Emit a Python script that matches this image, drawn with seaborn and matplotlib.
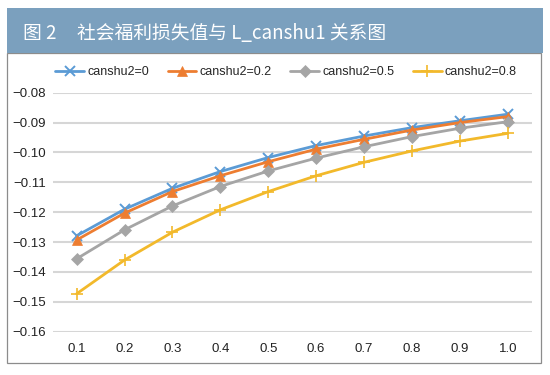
import matplotlib
matplotlib.use("Agg")
import matplotlib.pyplot as plt
from matplotlib.lines import Line2D
from matplotlib.patches import Rectangle
import seaborn as sns
import pandas as pd

x_labels = ["0.1", "0.2", "0.3", "0.4", "0.5", "0.6", "0.7", "0.8", "0.9", "1.0"]
series_names = ["canshu2=0", "canshu2=0.2", "canshu2=0.5", "canshu2=0.8"]
s0 = [-0.1279, -0.1190, -0.1120, -0.1064, -0.1017, -0.0977, -0.0945, -0.0917, -0.0894, -0.0872]
s02 = [-0.1293, -0.1203, -0.1131, -0.1078, -0.1031, -0.0989, -0.0956, -0.0925, -0.0900, -0.0880]
s05 = [-0.1356, -0.1259, -0.1179, -0.1114, -0.1062, -0.1019, -0.0981, -0.0947, -0.0919, -0.0897]
s08 = [-0.1473, -0.1360, -0.1267, -0.1192, -0.1131, -0.1078, -0.1033, -0.0995, -0.0962, -0.0936]
y_ticks = [-0.16, -0.15, -0.14, -0.13, -0.12, -0.11, -0.10, -0.09, -0.08]
title_label = "图 2"
title_text = "社会福利损失值与 L_canshu1 关系图"

colors = ["#5b9bd5", "#ed7d31", "#a5a5a5", "#f2b92b"]
markers = ["x", "^", "D", "+"]
msizes = [6.5, 7, 6, 8]
mews = [1.4, 0.5, 0.5, 1.2]

rows = []
for name, vals in zip(series_names, [s0, s02, s05, s08]):
    for xl, v in zip(x_labels, vals):
        rows.append({"x": xl, "y": v, "series": name})
df = pd.DataFrame(rows)

sns.set_theme(style="white")
plt.rcParams["font.family"] = ["Liberation Sans", "DejaVu Sans"]

fig = plt.figure(figsize=(5.5, 3.75), dpi=100)
W, H = 550, 375

# chart frame
fig.patches.append(Rectangle((7 / W, 1 - 363 / H), (541 - 7) / W, (363 - 53) / H,
                             transform=fig.transFigure, facecolor="white",
                             edgecolor="#8c8c8c", linewidth=0.9, zorder=-2))
# banner
fig.patches.append(Rectangle((7 / W, 1 - 53 / H), (543 - 7) / W, (53 - 8) / H,
                             transform=fig.transFigure, facecolor="#7ba0be",
                             edgecolor="none", zorder=-1))
fig.text(23 / W, 1 - 33 / H, title_label, color="white", fontsize=13.5,
         family=["Noto Sans CJK SC", "DejaVu Sans"], va="center", ha="left")
fig.text(77 / W, 1 - 33 / H, title_text, color="white", fontsize=13.5,
         family=["Noto Sans CJK SC", "DejaVu Sans"], va="center", ha="left")

ax = fig.add_axes([52.7 / W, 1 - 331.7 / H, (531.7 - 52.7) / W, (331.7 - 92.7) / H])
ax.set_zorder(2)
ax.set_facecolor("none")

for i, name in enumerate(series_names):
    sub = df[df["series"] == name]
    sns.pointplot(data=sub, x="x", y="y", order=x_labels, color=colors[i],
                  marker=markers[i], markersize=msizes[i], linewidth=2,
                  markeredgewidth=mews[i], errorbar=None, ax=ax)

ax.set_ylim(-0.16, -0.08)
ax.set_xlim(-0.5, len(x_labels) - 0.5)
ax.set_yticks(y_ticks)
ax.set_yticklabels([f"\u2212{abs(t):.2f}" for t in y_ticks])
ax.set_xlabel("")
ax.set_ylabel("")
ax.grid(axis="y", color="#d6d6d6", linewidth=1.5)
ax.grid(axis="x", visible=False)
ax.set_axisbelow(True)
for sp in ax.spines.values():
    sp.set_visible(False)
ax.tick_params(axis="both", length=0, labelsize=9.5, colors="#222222")
ax.tick_params(axis="y", pad=5)
ax.tick_params(axis="x", pad=8)

handles = [Line2D([0], [0], color=colors[i], marker=markers[i], markersize=msizes[i],
                  linewidth=2, markeredgewidth=mews[i])
           for i in range(4)]
fig.legend(handles, series_names, loc="center", bbox_to_anchor=(286 / W, 1 - 72 / H),
           ncol=4, frameon=False, fontsize=9, handlelength=2.3, columnspacing=1.5,
           handletextpad=0.25)

fig.savefig("out.png", dpi=100)
